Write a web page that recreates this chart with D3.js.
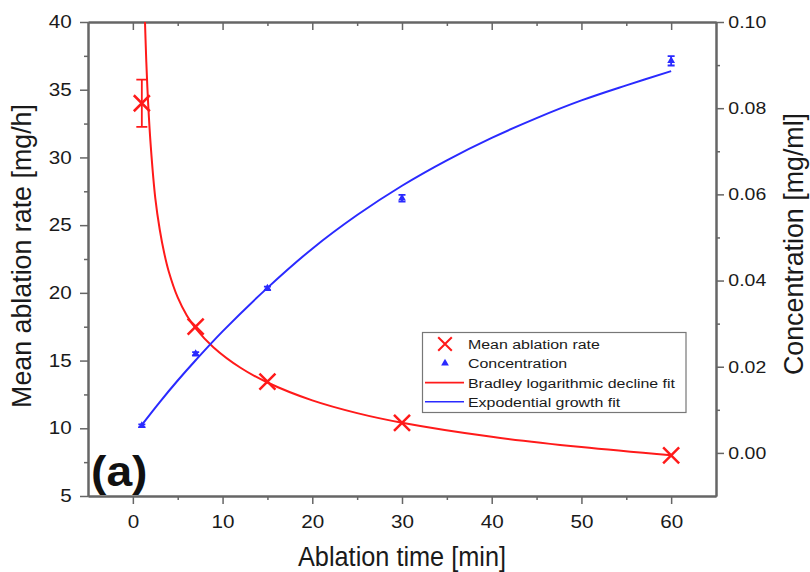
<!DOCTYPE html>
<html>
<head>
<meta charset="utf-8">
<script src="https://cdn.jsdelivr.net/npm/d3@7"></script>
<style>
    body { margin: 0; background: #fff; }
    svg { display: block; font-family: 'Liberation Sans', Arial, sans-serif; }
</style>
</head>
<body>
<svg id="chart" width="810" height="572"></svg>
<script>
// measured points
const times = [1, 7, 15, 30, 60];
const ablationRate = [34.0, 17.5, 13.45, 10.4, 8.0];
const ablationErr = [1.75, 0, 0, 0, 0];
const concentration = [0.0063, 0.0230, 0.0382, 0.0591, 0.0910];
const concErr = [0.0003, 0.0004, 0.0004, 0.0008, 0.0011];

// fit curves
const bradleyX = [1.3, 1.5, 1.7, 2, 2.5, 3, 3.5, 4, 5, 6, 7, 9, 12, 15, 20, 25, 30, 40, 50, 60];
const bradleyY = [41.1, 37.05, 34.05, 30.8, 27.0, 24.66, 22.92, 21.58, 19.66, 18.35, 17.38, 15.97, 14.47, 13.38, 12.06, 11.12, 10.41, 9.37, 8.61, 8.0];
const expX = [1, 3, 5, 7, 10, 15, 20, 25, 30, 35, 40, 45, 50, 55, 60];
const expY = [0.0065, 0.0118, 0.0168, 0.0215, 0.0282, 0.0383, 0.0474, 0.0552, 0.0620, 0.0679, 0.0731, 0.0777, 0.0818, 0.0853, 0.0886];

// ticks
const xTicks = [0, 10, 20, 30, 40, 50, 60];
const xMinor = [5, 15, 25, 35, 45, 55];
const yLeftTicks = [5, 10, 15, 20, 25, 30, 35, 40];
const yLeftMinor = [7.5, 12.5, 17.5, 22.5, 27.5, 32.5, 37.5];
const yRightTicks = [0, 0.02, 0.04, 0.06, 0.08, 0.10];
const yRightMinor = [0.01, 0.03, 0.05, 0.07, 0.09];

const legendLabels = ['Mean ablation rate', 'Concentration', 'Bradley logarithmic decline fit', 'Expodential growth fit'];

const red = '#ff1a1a';
const blue = '#2a2aff';
const axisColor = '#666666';
const sx = 1.18;   // tick / legend text looks stretched sideways

const svg = d3.select('#chart');
const pLeft = 88, pRight = 716, pTop = 22, pBottom = 496;

const x = d3.scaleLinear().domain([-5, 65]).range([pLeft, pRight]);
const yL = d3.scaleLinear().domain([5, 40]).range([pBottom, pTop]);
const yR = d3.scaleLinear().domain([-0.01, 0.10]).range([pBottom, pTop]);

svg.append('clipPath').attr('id', 'plot')
    .append('rect')
    .attr('x', pLeft).attr('y', pTop)
    .attr('width', pRight - pLeft).attr('height', pBottom - pTop);

const styleAxis = (g, fs) => {
    g.select('.domain').attr('stroke', axisColor).attr('stroke-width', 2);
    g.selectAll('.tick line').attr('stroke', axisColor).attr('stroke-width', 1.5);
    g.selectAll('text')
        .attr('fill', '#1a1a1a')
        .style('font-size', fs + 'px')
        .attr('transform', `scale(${sx},1)`);
};

// minor ticks first
svg.append('g').attr('transform', `translate(0,${pBottom})`)
    .call(d3.axisBottom(x).tickValues(xMinor).tickSize(4).tickSizeOuter(0).tickFormat(''))
    .call(g => styleAxis(g, 17));
svg.append('g').attr('transform', `translate(0,${pTop})`)
    .call(d3.axisTop(x).tickValues(xMinor).tickSize(-4).tickSizeOuter(0).tickFormat(''))
    .call(g => styleAxis(g, 17));
svg.append('g').attr('transform', `translate(${pLeft},0)`)
    .call(d3.axisLeft(yL).tickValues(yLeftMinor).tickSize(4).tickSizeOuter(0).tickFormat(''))
    .call(g => styleAxis(g, 17));
svg.append('g').attr('transform', `translate(${pRight},0)`)
    .call(d3.axisRight(yR).tickValues(yRightMinor).tickSize(4).tickSizeOuter(0).tickFormat(''))
    .call(g => styleAxis(g, 17));

// major ticks
svg.append('g').attr('transform', `translate(0,${pBottom})`)
    .call(d3.axisBottom(x).tickValues(xTicks).tickSize(8).tickPadding(12).tickSizeOuter(0).tickFormat(d3.format('d')))
    .call(g => styleAxis(g, 17.5));
svg.append('g').attr('transform', `translate(0,${pTop})`)
    .call(d3.axisTop(x).tickValues(xTicks).tickSize(-8).tickSizeOuter(0).tickFormat(''))
    .call(g => styleAxis(g, 17));
svg.append('g').attr('transform', `translate(${pLeft},0)`)
    .call(d3.axisLeft(yL).tickValues(yLeftTicks).tickSize(8).tickPadding(5.8).tickSizeOuter(0).tickFormat(d3.format('d')))
    .call(g => styleAxis(g, 17.5));
svg.append('g').attr('transform', `translate(${pRight},0)`)
    .call(d3.axisRight(yR).tickValues(yRightTicks).tickSize(8).tickPadding(2.5).tickSizeOuter(0).tickFormat(d3.format('.2f')))
    .call(g => styleAxis(g, 16.5));

// axis titles
svg.append('text')
    .attr('transform', 'translate(402,566) scale(1,1.07)')
    .attr('text-anchor', 'middle')
    .style('font-size', '25.3px')
    .attr('fill', '#1a1a1a')
    .text('Ablation time [min]');

svg.append('text')
    .attr('transform', 'translate(31,256) rotate(-90)')
    .attr('text-anchor', 'middle')
    .style('font-size', '26.8px')
    .attr('fill', '#1a1a1a')
    .text('Mean ablation rate [mg/h]');

svg.append('text')
    .attr('transform', 'translate(803,244) rotate(-90)')
    .attr('text-anchor', 'middle')
    .style('font-size', '26.8px')
    .attr('fill', '#1a1a1a')
    .text('Concentration [mg/ml]');

// panel tag
svg.append('text')
    .attr('transform', 'translate(91,486) scale(1.1,1)')
    .style('font-size', '42px')
    .style('font-weight', 'bold')
    .attr('fill', '#111')
    .text('(a)');

// fit curves
const plot = svg.append('g').attr('clip-path', 'url(#plot)');

const bradleyLine = d3.line()
    .x(i => x(bradleyX[i]))
    .y(i => yL(bradleyY[i]))
    .curve(d3.curveCatmullRom.alpha(0.5));
plot.append('path')
    .attr('d', bradleyLine(d3.range(bradleyX.length)))
    .attr('fill', 'none')
    .attr('stroke', red)
    .attr('stroke-width', 2);

const expLine = d3.line()
    .x(i => x(expX[i]))
    .y(i => yR(expY[i]))
    .curve(d3.curveCatmullRom.alpha(0.5));
plot.append('path')
    .attr('d', expLine(d3.range(expX.length)))
    .attr('fill', 'none')
    .attr('stroke', blue)
    .attr('stroke-width', 2);

// error bars
const errBar = (g, cx, y0, y1, color, w) => {
    g.append('path')
        .attr('d', `M${cx},${y0}V${y1}M${cx - w},${y0}H${cx + w}M${cx - w},${y1}H${cx + w}`)
        .attr('fill', 'none')
        .attr('stroke', color)
        .attr('stroke-width', 1.8);
};

const marks = svg.append('g');
times.forEach((t, i) => {
    if (ablationErr[i] > 0)
        errBar(marks, x(t), yL(ablationRate[i] - ablationErr[i]), yL(ablationRate[i] + ablationErr[i]), red, 5.5);
    errBar(marks, x(t), yR(concentration[i] - concErr[i]), yR(concentration[i] + concErr[i]), blue, 3.5);
});

const xMark = 'M-8,-8L8,8M-8,8L8,-8';
const tri = d3.symbol(d3.symbolTriangle, 26);

marks.selectAll('.rate').data(times)
    .enter()
    .append('path')
    .attr('class', 'rate')
    .attr('transform', (d, i) => `translate(${x(d)},${yL(ablationRate[i])})`)
    .attr('d', xMark)
    .attr('fill', 'none')
    .attr('stroke', red)
    .attr('stroke-width', 2.5);

marks.selectAll('.conc').data(times)
    .enter()
    .append('path')
    .attr('class', 'conc')
    .attr('transform', (d, i) => `translate(${x(d)},${yR(concentration[i])})`)
    .attr('d', tri)
    .attr('fill', blue);

// legend
const lg = svg.append('g');
lg.append('rect')
    .attr('x', 422.5).attr('y', 332.5)
    .attr('width', 263.5).attr('height', 80)
    .attr('fill', '#fff')
    .attr('stroke', '#777')
    .attr('stroke-width', 1.2);

const rowY = [344, 363.3, 382.6, 401.8];
lg.append('path')
    .attr('transform', `translate(445,${rowY[0]}) scale(0.85)`)
    .attr('d', xMark)
    .attr('fill', 'none')
    .attr('stroke', red)
    .attr('stroke-width', 2.4);
lg.append('path')
    .attr('transform', `translate(445,${rowY[1]})`)
    .attr('d', tri)
    .attr('fill', blue);
lg.append('line')
    .attr('x1', 425).attr('x2', 464)
    .attr('y1', rowY[2]).attr('y2', rowY[2])
    .attr('stroke', red).attr('stroke-width', 1.6);
lg.append('line')
    .attr('x1', 425).attr('x2', 464)
    .attr('y1', rowY[3]).attr('y2', rowY[3])
    .attr('stroke', blue).attr('stroke-width', 1.6);

lg.selectAll('.lbl').data(legendLabels)
    .enter()
    .append('text')
    .attr('class', 'lbl')
    .attr('transform', (d, i) => `translate(468,${rowY[i] + 5}) scale(${sx},1)`)
    .style('font-size', '13.5px')
    .attr('fill', '#1a1a1a')
    .text(d => d);
</script>
</body>
</html>
